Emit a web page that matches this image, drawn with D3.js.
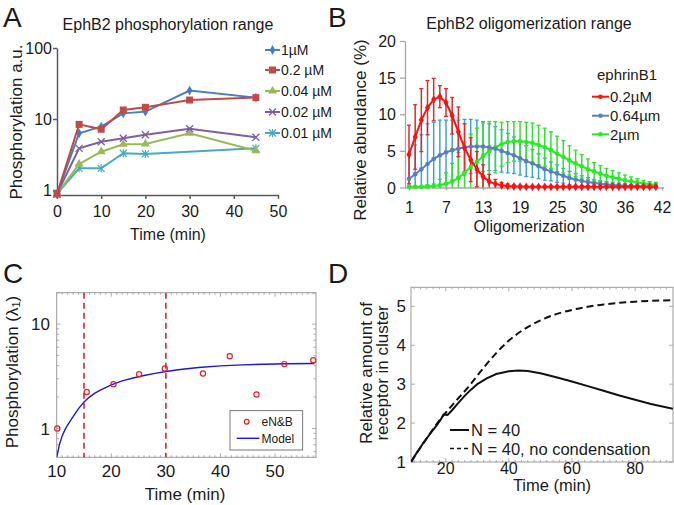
<!DOCTYPE html>
<html><head><meta charset="utf-8">
<script src="https://cdn.jsdelivr.net/npm/d3@7"></script>
<style>body{margin:0;background:#fff} svg{display:block}</style>
</head><body><svg id="c" width="674" height="505"></svg>
<script>
// ---------------- DATA ----------------
// Panel A
const timesA = [0, 5, 10, 15, 20, 30, 45];
const timesA01 = [0, 5, 10, 15, 20, 45];
const seriesNamesA = ["1µM", "0.2 µM", "0.04 µM", "0.02 µM", "0.01 µM"];
const a_1uM  = [0.88, 6.3, 7.8, 12.0, 12.7, 25.1, 20.0];
const a_02uM = [0.88, 8.4, 7.16, 13.4, 14.6, 18.5, 20.0];
const a_004uM = [0.88, 2.32, 3.46, 4.4, 4.45, 6.3, 3.58];
const a_002uM = [0.88, 3.86, 4.79, 5.35, 6.0, 7.3, 5.52];
const a_001uM = [0.88, 2.02, 2.02, 3.29, 3.22, 3.86];
const ticksAx = [0, 10, 20, 30, 40, 50];
const ticksAy = [1, 10, 100];

// Panel B (oligomer size 1..41)
const sizesB = d3.range(1, 42);
const seriesNamesB = ["0.2µM", "0.64µm", "2µm"];
const b_02 = [4.5, 6.9, 9.2, 10.9, 12.0, 12.4, 11.6, 9.8, 7.6, 5.4, 3.8, 2.5, 1.5, 0.8, 0.5, 0.3, 0.2, 0.15, 0.12, 0.1, 0.1, 0.1, 0.1, 0.1, 0.1, 0.1, 0.1, 0.1, 0.1, 0.1, 0.1, 0.1, 0.1, 0.1, 0.1, 0.1, 0.1, 0.1, 0.1, 0.1, 0.1];
const b_02err = [4.0, 4.4, 4.3, 3.7, 2.9, 1.5, 1.9, 2.5, 3.4, 3.3, 3.0, 2.4, 1.6, 1.0, 0.6, 0.4, 0.3, 0.2, 0.15, 0.1, 0.1, 0.1, 0.1, 0.1, 0.1, 0.1, 0.1, 0.1, 0.1, 0.1, 0.1, 0.1, 0.1, 0.1, 0.1, 0.1, 0.1, 0.1, 0.1, 0.1, 0.1];
const b_064 = [1.2, 1.8, 2.5, 3.2, 3.9, 4.4, 4.8, 5.1, 5.3, 5.5, 5.6, 5.6, 5.6, 5.5, 5.3, 5.0, 4.7, 4.4, 4.0, 3.6, 3.3, 2.9, 2.5, 2.2, 1.9, 1.6, 1.3, 1.1, 0.9, 0.75, 0.6, 0.5, 0.42, 0.35, 0.3, 0.25, 0.2, 0.17, 0.15, 0.12, 0.1];
const b_064err = [3.2, 4.0, 4.7, 5.5, 5.0, 4.8, 4.4, 4.1, 3.9, 3.8, 3.7, 3.6, 3.4, 3.2, 3.0, 2.9, 2.7, 2.5, 2.3, 2.1, 1.9, 1.7, 1.5, 1.3, 1.2, 1.0, 0.9, 0.8, 0.7, 0.6, 0.5, 0.45, 0.4, 0.35, 0.3, 0.25, 0.2, 0.18, 0.15, 0.12, 0.1];
const b_2 = [0.1, 0.1, 0.1, 0.15, 0.2, 0.3, 0.5, 0.8, 1.3, 2.0, 2.8, 3.5, 4.3, 5.0, 5.5, 5.9, 6.2, 6.3, 6.3, 6.2, 6.1, 5.8, 5.5, 5.1, 4.6, 4.2, 3.7, 3.3, 2.9, 2.5, 2.2, 1.9, 1.6, 1.4, 1.2, 1.0, 0.85, 0.7, 0.55, 0.45, 0.4];
const b_2err = [0.1, 0.1, 0.1, 0.2, 0.3, 0.8, 1.5, 2.5, 3.5, 4.2, 4.5, 4.6, 4.5, 4.0, 3.5, 3.0, 2.8, 2.7, 2.7, 2.7, 2.7, 2.7, 2.6, 2.5, 2.4, 2.2, 2.0, 1.8, 1.6, 1.4, 1.2, 1.1, 1.0, 0.9, 0.8, 0.7, 0.6, 0.5, 0.4, 0.35, 0.3];
const ticksBx = [1, 7, 13, 19, 25, 30, 36, 42];
const ticksBy = [0, 5, 10, 15, 20];

// Panel C
const timesC = [10.1, 15.5, 20.4, 25.1, 29.8, 36.8, 41.7, 46.6, 51.7, 57.0];
const enbC = [1.0, 2.24, 2.66, 3.31, 3.76, 3.37, 4.93, 2.12, 4.14, 4.52];
const modelT = [10, 10.5, 11, 11.5, 12, 13, 14, 15, 16, 17, 18, 20, 22, 24, 26, 28, 30, 33, 36, 40, 44, 48, 52, 57.2];
const modelV = [0.53, 0.70, 0.85, 0.97, 1.08, 1.3, 1.55, 1.80, 2.0, 2.18, 2.33, 2.62, 2.86, 3.05, 3.22, 3.37, 3.52, 3.7, 3.84, 3.98, 4.07, 4.13, 4.17, 4.2];
const dashedC = [15, 30];
const ticksCx = [10, 20, 30, 40, 50];
const ticksCy = [1, 10];

// Panel D
const solidT = [9, 11, 13, 15, 17, 18.5, 19.3, 20.6, 22, 24, 26, 28, 30, 33, 36, 40, 43, 46, 50, 55, 60, 65, 70, 75, 80, 85, 92];
const solidV = [1.0, 1.26, 1.5, 1.72, 1.93, 2.1, 2.22, 2.21, 2.33, 2.52, 2.7, 2.86, 3.0, 3.15, 3.26, 3.33, 3.35, 3.34, 3.28, 3.18, 3.07, 2.95, 2.83, 2.71, 2.6, 2.49, 2.37];
const dashT = [9, 11, 13, 15, 17, 19, 21, 23, 25, 27, 30, 33, 36, 40, 45, 50, 55, 60, 65, 70, 75, 80, 85, 92];
const dashV = [1.0, 1.25, 1.49, 1.73, 1.96, 2.17, 2.36, 2.55, 2.73, 2.91, 3.22, 3.52, 3.8, 4.12, 4.42, 4.64, 4.8, 4.91, 4.99, 5.05, 5.09, 5.12, 5.14, 5.16];
const ticksDx = [20, 40, 60, 80];
const ticksDy = [1, 2, 3, 4, 5];

// ---------------- DRAWING ----------------
const FONT = '"Liberation Sans", Arial, Helvetica, sans-serif';
const TXT = "#1a1a1a";
const svg = d3.select("#c");
svg.append("rect").attr("width", 674).attr("height", 505).attr("fill", "#fff");

function label(g, x, y, t, size, opts = {}) {
  const el = g.append("text").attr("x", x).attr("y", y).text(t)
    .attr("font-family", FONT).attr("font-size", size).attr("fill", TXT)
    .attr("text-anchor", opts.anchor || "middle");
  if (opts.rotate) el.attr("transform", `rotate(-90,${x},${y})`);
  if (opts.baseline) el.attr("dominant-baseline", opts.baseline);
  return el;
}
function styleAxis(g, col, w, size) {
  g.select(".domain").attr("stroke", col).attr("stroke-width", w);
  g.selectAll(".tick line").attr("stroke", col).attr("stroke-width", w);
  g.selectAll("text").attr("font-size", size).attr("font-family", FONT).attr("fill", TXT);
}

// Panel letters
label(svg, 3, 27, "A", 28, {anchor: "start"});
label(svg, 328, 27, "B", 28, {anchor: "start"});
label(svg, 3, 283, "C", 28, {anchor: "start"});
label(svg, 328, 283, "D", 28, {anchor: "start"});

// ===== Panel A =====
{
  const g = svg.append("g");
  const x = d3.scaleLinear().domain([0, 50]).range([57, 278]);
  const y = d3.scaleLog().domain([0.85, 100]).range([195, 48]);
  const ax = g.append("g").attr("transform", "translate(0,195)")
    .call(d3.axisBottom(x).tickValues(ticksAx).tickSize(4).tickSizeOuter(0).tickFormat(d3.format("d")));
  styleAxis(ax, "#595959", 1.5, 16);
  ax.selectAll("text").attr("y", 22).attr("dy", null);
  const ay = g.append("g").attr("transform", "translate(57,0)")
    .call(d3.axisLeft(y).tickValues(ticksAy).tickSize(4).tickSizeOuter(0).tickFormat(d3.format("d")));
  styleAxis(ay, "#595959", 1.5, 16);
  ay.selectAll("text").attr("x", -5).attr("dy", "0.35em");

  label(g, 168, 30, "EphB2 phosphorylation range", 16);
  label(g, 168, 240, "Time (min)", 16);
  label(g, 16, 122, "Phosphorylation a.u.", 17, {rotate: true, baseline: "central"});

  const cols = ["#4a7ebb", "#be4b48", "#98b954", "#7d60a0", "#46aac5"];
  const data = [
    [timesA, a_1uM], [timesA, a_02uM], [timesA, a_004uM], [timesA, a_002uM], [timesA01, a_001uM]
  ];
  const line = d3.line().x(d => x(d[0])).y(d => y(d[1]));
  function marker(sel, i, col) {
    if (i === 0) sel.append("path").attr("d", d3.symbol(d3.symbolDiamond, 28)()).attr("fill", col);
    else if (i === 1) sel.append("rect").attr("x", -3.5).attr("y", -3.5).attr("width", 7).attr("height", 7).attr("fill", col);
    else if (i === 2) sel.append("path").attr("d", d3.symbol(d3.symbolTriangle, 34)()).attr("fill", col);
    else if (i === 3) sel.append("path").attr("d", "M-3.5,-3.5L3.5,3.5M-3.5,3.5L3.5,-3.5").attr("stroke", col).attr("stroke-width", 1.3);
    else sel.append("path").attr("d", "M-3.5,-3.5L3.5,3.5M-3.5,3.5L3.5,-3.5M0,-4L0,4").attr("stroke", col).attr("stroke-width", 1.2);
  }
  const order = [4, 2, 3, 0, 1];
  order.forEach(i => {
    const [ts, vs] = data[i];
    const pts = ts.map((t, k) => [t, vs[k]]);
    g.append("path").attr("d", line(pts)).attr("fill", "none").attr("stroke", cols[i]).attr("stroke-width", 2);
    pts.forEach(p => {
      const m = g.append("g").attr("transform", `translate(${x(p[0])},${y(p[1])})`);
      marker(m, i, cols[i]);
    });
  });
  // legend
  const legY = [50, 70, 91, 112, 133];
  seriesNamesA.forEach((n, i) => {
    g.append("line").attr("x1", 265).attr("x2", 280).attr("y1", legY[i]).attr("y2", legY[i])
      .attr("stroke", cols[i]).attr("stroke-width", 2);
    const m = g.append("g").attr("transform", `translate(272.5,${legY[i]})`);
    marker(m, i, cols[i]);
    label(g, 281, legY[i] + 5, n, 14, {anchor: "start"});
  });
}

// ===== Panel B =====
{
  const g = svg.append("g");
  const x = d3.scaleLinear().domain([1, 42]).range([409, 662]);
  const y = d3.scaleLinear().domain([0, 20]).range([187.5, 41]);
  const ax = g.append("g").attr("transform", "translate(0,187.5)")
    .call(d3.axisBottom(x).tickValues(ticksBx).tickSize(3).tickSizeOuter(0).tickFormat(d3.format("d")));
  ax.select(".domain").attr("d", "M405,0.5H664");
  styleAxis(ax, "#a6a6a6", 1.3, 16);
  ax.selectAll("text").attr("y", 25).attr("dy", null);
  const ay = g.append("g").attr("transform", "translate(405,0)")
    .call(d3.axisLeft(y).tickValues(ticksBy).tickSize(5).tickSizeOuter(0));
  styleAxis(ay, "#a6a6a6", 1.3, 16);
  ay.selectAll("text").attr("x", -9).attr("dy", "0.35em");

  label(g, 529, 29, "EphB2 oligomerization range", 16);
  label(g, 529, 232, "Oligomerization", 16);
  label(g, 360, 130, "Relative abundance (%)", 17, {rotate: true, baseline: "central"});

  const lineCols = ["#ff1010", "#5a7fc0", "#22ee22"];
  const barCols = ["#dd2a2a", "#3aa3dd", "#30e030"];
  const vals = [b_02, b_064, b_2];
  const errs = [b_02err, b_064err, b_2err];
  // error bars
  [1, 2, 0].forEach(i => {
    sizesB.forEach((s, k) => {
      const v = vals[i][k], e = errs[i][k];
      const lo = Math.max(0, v - e), hi = v + e;
      const cx = x(s);
      g.append("line").attr("x1", cx).attr("x2", cx).attr("y1", y(lo)).attr("y2", y(hi))
        .attr("stroke", barCols[i]).attr("stroke-width", 1.5);
      g.append("line").attr("x1", cx - 2).attr("x2", cx + 2).attr("y1", y(hi)).attr("y2", y(hi))
        .attr("stroke", barCols[i]).attr("stroke-width", 1.3);
      if (v - e > 0) g.append("line").attr("x1", cx - 2).attr("x2", cx + 2).attr("y1", y(lo)).attr("y2", y(lo))
        .attr("stroke", barCols[i]).attr("stroke-width", 1.3);
    });
  });
  const line = d3.line().x((d, k) => x(sizesB[k])).y(d => y(d));
  [2, 1, 0].forEach(i => {
    g.append("path").attr("d", line(vals[i])).attr("fill", "none").attr("stroke", lineCols[i]).attr("stroke-width", 2);
    vals[i].forEach((v, k) => {
      if (i === 0) g.append("path").attr("transform", `translate(${x(sizesB[k])},${y(v)})`)
        .attr("d", d3.symbol(d3.symbolDiamond, 22)()).attr("fill", lineCols[i]);
      else g.append("circle").attr("cx", x(sizesB[k])).attr("cy", y(v)).attr("r", 2.3).attr("fill", lineCols[i]);
    });
  });
  // legend
  label(g, 627, 80, "ephrinB1", 15);
  const legY = [96.7, 115.7, 134.3];
  seriesNamesB.forEach((n, i) => {
    g.append("line").attr("x1", 592).attr("x2", 609).attr("y1", legY[i]).attr("y2", legY[i])
      .attr("stroke", lineCols[i]).attr("stroke-width", 2);
    g.append("circle").attr("cx", 600.5).attr("cy", legY[i]).attr("r", 2.3).attr("fill", lineCols[i]);
    label(g, 610, legY[i] + 5.5, n, 15, {anchor: "start"});
  });
}

// ===== Panel C =====
{
  const g = svg.append("g");
  const L = 56.7, R = 316, T = 292.7, B = 457.3;
  const x = d3.scaleLinear().domain([10, 57.5]).range([L, R]);
  const y = d3.scaleLog().domain([0.53, 20]).range([B, T]);
  g.append("defs").append("clipPath").attr("id", "clipC").append("rect")
    .attr("x", L).attr("y", T).attr("width", R - L).attr("height", B - T);
  g.append("rect").attr("x", L).attr("y", T).attr("width", R - L).attr("height", B - T)
    .attr("fill", "#fff").attr("stroke", "#9a9a9a").attr("stroke-width", 1);
  const tk = g.append("g").attr("stroke", "#9a9a9a").attr("stroke-width", 0.8);
  d3.range(11, 58).forEach(t => {
    const len = ticksCx.includes(t) ? 4 : 2;
    tk.append("line").attr("x1", x(t)).attr("x2", x(t)).attr("y1", T).attr("y2", T + len);
    tk.append("line").attr("x1", x(t)).attr("x2", x(t)).attr("y1", B).attr("y2", B - len);
  });
  const minorY = [0.6, 0.7, 0.8, 0.9, 1, 2, 3, 4, 5, 6, 7, 8, 9, 10, 20];
  minorY.forEach(v => {
    const len = ticksCy.includes(v) ? 4 : 2.5;
    tk.append("line").attr("x1", L).attr("x2", L + len).attr("y1", y(v)).attr("y2", y(v));
    tk.append("line").attr("x1", R).attr("x2", R - len).attr("y1", y(v)).attr("y2", y(v));
  });
  ticksCx.forEach(t => label(g, x(t), 477, String(t), 17));
  ticksCy.forEach(v => label(g, 50, y(v) + 6, String(v), 17, {anchor: "end"}));
  label(g, 185, 500, "Time (min)", 17);
  const yl = g.append("text").attr("x", 12).attr("y", 372).attr("transform", "rotate(-90,12,372)")
    .attr("font-family", FONT).attr("font-size", 17).attr("fill", TXT).attr("text-anchor", "middle")
    .attr("dominant-baseline", "central");
  yl.append("tspan").text("Phosphorylation (λ");
  yl.append("tspan").text("1").attr("font-size", 11).attr("dy", 4);
  yl.append("tspan").text(")").attr("dy", -4);

  const cg = g.append("g").attr("clip-path", "url(#clipC)");
  dashedC.forEach(t => cg.append("line").attr("x1", x(t)).attr("x2", x(t)).attr("y1", T).attr("y2", B)
    .attr("stroke", "#e8202a").attr("stroke-width", 1.6).attr("stroke-dasharray", "6,4"));
  const line = d3.line().x((d, k) => x(modelT[k])).y(d => y(d));
  cg.append("path").attr("d", line(modelV)).attr("fill", "none").attr("stroke", "#1a1ad0").attr("stroke-width", 1.4);
  timesC.forEach((t, k) => g.append("circle").attr("cx", x(t)).attr("cy", y(enbC[k])).attr("r", 2.6)
    .attr("fill", "none").attr("stroke", "#e8202a").attr("stroke-width", 1.2));
  // legend
  g.append("rect").attr("x", 230).attr("y", 410.7).attr("width", 72.7).attr("height", 39.3)
    .attr("fill", "#fff").attr("stroke", "#555").attr("stroke-width", 0.8);
  g.append("circle").attr("cx", 246.7).attr("cy", 421.7).attr("r", 2.4).attr("fill", "none")
    .attr("stroke", "#e8202a").attr("stroke-width", 1.2);
  label(g, 261.5, 426, "eN&B", 12, {anchor: "start"});
  g.append("line").attr("x1", 236.7).attr("x2", 259.3).attr("y1", 438.3).attr("y2", 438.3)
    .attr("stroke", "#1a1ad0").attr("stroke-width", 1.4);
  label(g, 261.5, 442.5, "Model", 12, {anchor: "start"});
}

// ===== Panel D =====
{
  const g = svg.append("g");
  const L = 411, R = 673, T = 287.3, B = 462;
  const x = d3.scaleLinear().domain([9, 92]).range([L, R]);
  const y = d3.scaleLinear().domain([1, 5.49]).range([B, T]);
  g.append("defs").append("clipPath").attr("id", "clipD").append("rect")
    .attr("x", L).attr("y", T).attr("width", R - L).attr("height", B - T);
  g.append("rect").attr("x", L).attr("y", T).attr("width", R - L).attr("height", B - T)
    .attr("fill", "#fff").attr("stroke", "#9a9a9a").attr("stroke-width", 1);
  const tk = g.append("g").attr("stroke", "#9a9a9a").attr("stroke-width", 0.8);
  d3.range(10, 92, 2).forEach(t => {
    const len = ticksDx.includes(t) ? 4 : 2;
    tk.append("line").attr("x1", x(t)).attr("x2", x(t)).attr("y1", T).attr("y2", T + len);
    tk.append("line").attr("x1", x(t)).attr("x2", x(t)).attr("y1", B).attr("y2", B - len);
  });
  ticksDy.forEach(v => {
    tk.append("line").attr("x1", L).attr("x2", L + 4).attr("y1", y(v)).attr("y2", y(v));
    tk.append("line").attr("x1", R).attr("x2", R - 4).attr("y1", y(v)).attr("y2", y(v));
  });
  ticksDx.forEach(t => label(g, x(t), 474, String(t), 16));
  ticksDy.forEach(v => label(g, 406, y(v) + 6, String(v), 17, {anchor: "end"}));
  label(g, 552, 491, "Time (min)", 16.5);
  label(g, 366, 373, "Relative amount of", 17, {rotate: true, baseline: "central"});
  label(g, 382, 373, "receptor in cluster", 17, {rotate: true, baseline: "central"});

  const cg = g.append("g").attr("clip-path", "url(#clipD)");
  const ls = d3.line().x((d, k) => x(solidT[k])).y(d => y(d));
  const ld = d3.line().x((d, k) => x(dashT[k])).y(d => y(d)).curve(d3.curveMonotoneX);
  cg.append("path").attr("d", ld(dashV)).attr("fill", "none").attr("stroke", "#111").attr("stroke-width", 2)
    .attr("stroke-dasharray", "7,4");
  cg.append("path").attr("d", ls(solidV)).attr("fill", "none").attr("stroke", "#111").attr("stroke-width", 2);
  // legend
  g.append("line").attr("x1", 450).attr("x2", 469).attr("y1", 430).attr("y2", 430).attr("stroke", "#111").attr("stroke-width", 2);
  label(g, 471, 436, "N = 40", 16.5, {anchor: "start"});
  g.append("line").attr("x1", 450).attr("x2", 469).attr("y1", 448.5).attr("y2", 448.5).attr("stroke", "#111")
    .attr("stroke-width", 1.5).attr("stroke-dasharray", "4,3");
  label(g, 471, 454.5, "N = 40, no condensation", 16.5, {anchor: "start"});
}
</script>
</body></html>
